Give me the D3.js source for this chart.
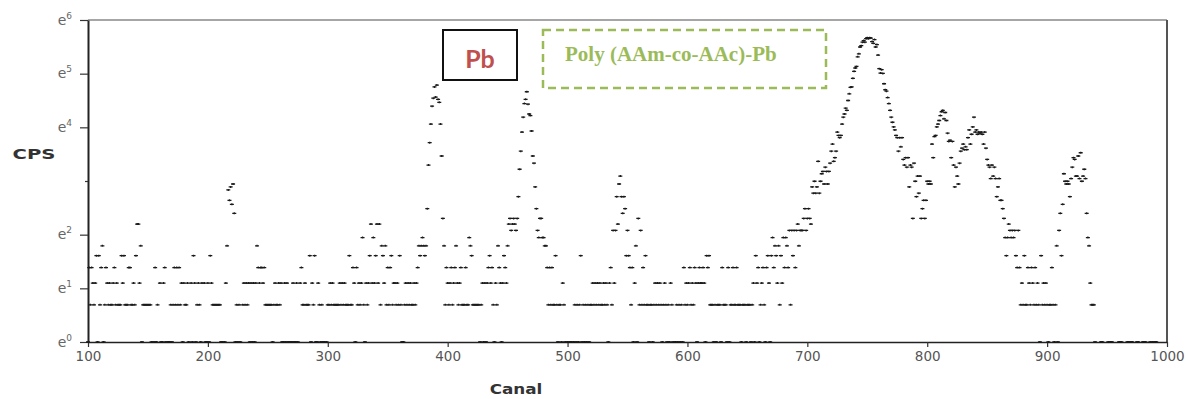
<!DOCTYPE html>
<html><head><meta charset="utf-8">
<script src="https://cdn.jsdelivr.net/npm/d3@7"></script>
<style>body{margin:0;background:#fff}svg{display:block}</style>
</head><body>
<svg id="chart" width="1190" height="399"></svg>
<script>
// ---- data: counts per channel (CPS), one array per hundred channels ----
const counts100 = [1,4,2,4,3,2,3,5,1,5, 2,4,6,1,2,4,3,2,3,2, 2,3,4,2,3,2,2,2,5,3, 5,2,2,2,4,4,2,2,3,2, 5,9,9,3,6,1,2,2,2,2,
  2,2,2,1,0,1,4,1,2,0, 3,1,1,3,4,1,0,1,1,2, 1,2,4,2,4,2,4,2,3,1, 3,2,2,3,1,0,3,1,5,3, 1,2,3,2,1,3,0,3,1,1];
const counts200 = [3,1,5,3,2,2,2,2,2,2, 2,1,1,0,1,3,6,17,14,18, 13,19,11,1,2,1,2,1,0,2, 3,2,3,2,3,1,3,1,3,1, 3,6,4,3,4,4,3,4,2,2,
  2,2,2,2,1,2,3,2,2,3, 2,3,1,1,3,1,3,1,0,1, 1,3,1,1,3,1,0,3,4,2, 2,3,2,2,2,5,1,3,2,5, 1,1,3,2,1,2,1,1,0,1];
const counts300 = [2,2,3,2,3,2,2,2,2,2, 3,2,3,2,3,2,2,2,5,2, 2,4,3,1,4,2,3,2,3,7, 2,1,3,2,3,5,9,3,7,3, 5,9,3,9,2,6,5,3,6,2,
  4,2,4,5,2,3,3,2,3,2, 5,2,1,1,2,3,2,3,2,3, 2,2,3,2,3,4,6,5,6,7, 6,5,6,12,27,41,58,81,94,116, 96,120,92,87,58,32,10,6,2,4];
const counts400 = [3,2,3,4,2,3,4,6,3,2, 3,4,2,2,2,4,2,2,7,6, 5,2,2,2,2,2,2,1,2,3, 1,3,1,3,4,5,3,4,2,1, 3,2,6,4,3,1,3,5,4,3,
  6,9,10,8,9,10,9,8,10,15, 25,35,50,66,85,92,106,84,70,68, 51,32,28,18,12,8,7,10,10,7, 7,6,6,4,2,4,2,4,2,2, 5,2,1,2,2,1,3,2,1,0];
const counts500 = [1,0,1,1,0,1,2,1,2,1, 2,5,1,2,1,2,1,2,1,2, 2,3,2,3,2,3,2,3,2,2, 3,2,3,2,1,3,4,2,8,3, 8,15,9,19,22,15,11,15,12,5,
  8,5,4,2,4,1,3,6,1,10, 2,8,2,4,2,5,2,2,1,2, 2,1,2,3,2,3,2,3,2,1, 2,3,2,1,2,1,3,2,1,0, 1,2,1,2,1,2,1,4,2,3];
const counts600 = [2,3,4,2,3,2,4,3,1,3, 4,3,3,4,3,1,5,4,5,2, 2,2,1,2,1,2,2,2,1,4, 2,2,2,1,4,1,2,2,4,2, 2,4,2,2,2,1,2,2,2,1,
  2,2,2,1,2,3,1,5,3,4, 1,2,3,4,2,1,4,5,3,1, 5,7,4,6,5,3,6,2,5,3, 7,4,7,6,4,8,2,8,5,8, 4,8,9,6,8,8,8,10,12,8];
const counts700 = [10,12,10,9,18,16,20,16,18,29, 16,20,23,24,19,26,24,19,24,28, 35,40,29,31,35,50,47,45,47,58,
  66,70,78,75,90,102,115,116,136,155, 165,170,203,215,244,250,267,275,267,285, 290,285,290,288,270,261,280,244,255,210,
  163,150,160,149,123,110,107,95,85,75, 66,60,55,52,47,45,35,45,38,45, 30,27,31,26,31,18,27,26,10,28, 20,15,22,16,22,10,12,14,10,14];
const counts800 = [20,19,20,19,40,31,46,47,55,58, 62,68,73,75,64,72,62,49,42,43, 31,42,27,18,26,22,19,28,35,37,
  40,36,38,36,45,52,40,48,55,66, 50,52,48,50,49,50,48,40,50,37, 30,27,26,21,27,22,26,21,15,18,
  21,14,14,12,10,7,5,7,9,8, 7,8,7,8,5,4,8,4,2,3, 2,5,2,2,4,3,2,4,3,2, 4,2,3,2,1,5,2,3,2,3];
const counts900 = [2,1,2,2,4,2,1,2,6,1, 8,11,5,13,23,20,19,20,19,15, 21,26,31,30,22,22,32,21,34,20, 22,25,21,11,7,6,3,2,2,2,
  1,0,0,0,0,1,1,0,0,0, 0,1,0,1,1,0,0,0,0,0, 1,1,1,0,0,0,0,1,1,0, 1,1,0,0,0,1,1,0,0,0, 1,1,1,0,0,0,1,0,1,0, 1,1,0,0,0,0,0,0,0,0];
const blockStarts = [100,200,300,400,500,600,700,800,900];
const xTicks = [100,200,300,400,500,600,700,800,900,1000];
const yTickPowers = [0,1,2,3,4,5,6];
const yTickLabels = ["0","1","2","","4","5","6"];
const xTitle = "Canal", yTitle = "CPS";
const legendPb = "Pb", legendPoly = "Poly (AAm-co-AAc)-Pb";

const blocks = [counts100,counts200,counts300,counts400,counts500,counts600,counts700,counts800,counts900];
const points = [];
blocks.forEach((arr, b) => arr.forEach((v, i) => { if (v > 0) points.push({ch: blockStarts[b] + i, v}); }));

const svg = d3.select("#chart");
const L = 88, R = 1167, T = 20, B = 342;
const x = d3.scaleLinear().domain([100, 1000]).range([L, R]);
const y = d3.scaleLog().base(Math.E).domain([1, Math.exp(6)]).range([B, T]);

// frame (top & right)
svg.append("line").attr("x1", L).attr("x2", R).attr("y1", T).attr("y2", T).attr("stroke", "#888").attr("stroke-width", 1.5);
svg.append("line").attr("x1", R).attr("x2", R).attr("y1", T).attr("y2", B).attr("stroke", "#555").attr("stroke-width", 2);

// x axis
const gx = svg.append("g").attr("transform", `translate(0,${B})`)
  .call(d3.axisBottom(x).tickValues(xTicks).tickSize(5).tickSizeOuter(0).tickPadding(4).tickFormat(d3.format("d")));
gx.select(".domain").attr("stroke", "#222").attr("stroke-width", 1.5);
gx.selectAll(".tick line").attr("stroke", "#333").attr("stroke-width", 1.2);
gx.selectAll(".tick text").attr("font-family", "DejaVu Sans, sans-serif").attr("font-size", 13.5).attr("fill", "#555");

// y axis
const gy = svg.append("g").attr("transform", `translate(${L},0)`)
  .call(d3.axisLeft(y).tickValues(yTickPowers.map(p => Math.exp(p))).tickSize(8).tickSizeOuter(0).tickFormat(() => ""));
gy.select(".domain").attr("stroke", "#222").attr("stroke-width", 2);
gy.selectAll(".tick line").attr("stroke", "#333").attr("stroke-width", 1.2)
  .attr("x2", (d, i) => yTickLabels[i] === "" ? -3 : -8);
gy.selectAll(".tick").each(function(d, i) {
  if (yTickLabels[i] === "") return;
  const t = d3.select(this).append("text").attr("x", -16).attr("y", 4).attr("text-anchor", "end")
    .attr("font-family", "DejaVu Sans, sans-serif").attr("fill", "#666");
  t.append("tspan").attr("font-size", 14).text("e");
  t.append("tspan").attr("font-size", 9).attr("dy", -6).text(yTickLabels[i]);
});

// axis titles
svg.append("text").attr("transform", "translate(516,394) scale(1.2,1)").attr("text-anchor", "middle")
  .attr("font-family", "DejaVu Sans, sans-serif").attr("font-weight", "bold").attr("font-size", 14).attr("fill", "#333").text(xTitle);
svg.append("text").attr("transform", "translate(34,159) scale(1.4,1)").attr("text-anchor", "middle")
  .attr("font-family", "DejaVu Sans, sans-serif").attr("font-weight", "bold").attr("font-size", 14).attr("fill", "#333").text(yTitle);

// data points (small plus marks)
svg.append("g").selectAll("path").data(points).join("path")
  .attr("transform", d => `translate(${x(d.ch)},${y(d.v)})`)
  .attr("d", "M-2,0H2M0,-1V1")
  .attr("stroke", "#1a1a1a").attr("stroke-width", 1.3).attr("fill", "none");

// legend boxes
svg.append("rect").attr("x", 443).attr("y", 30).attr("width", 74).attr("height", 50)
  .attr("fill", "#fff").attr("stroke", "#111").attr("stroke-width", 2);
svg.append("text").attr("x", 480).attr("y", 68).attr("text-anchor", "middle")
  .attr("font-family", "Lato, 'Open Sans', sans-serif").attr("font-weight", "bold").attr("font-size", 25).attr("fill", "#c0504d").text(legendPb);
svg.append("rect").attr("x", 543).attr("y", 30).attr("width", 283).attr("height", 58)
  .attr("fill", "none").attr("stroke", "#9bbb59").attr("stroke-width", 2.5).attr("stroke-dasharray", "8,5");
svg.append("text").attr("x", 565).attr("y", 61)
  .attr("font-family", "'Liberation Serif', 'Times New Roman', serif").attr("font-weight", "bold").attr("font-size", 21).attr("fill", "#9bbb59").text(legendPoly);
</script>
</body></html>
